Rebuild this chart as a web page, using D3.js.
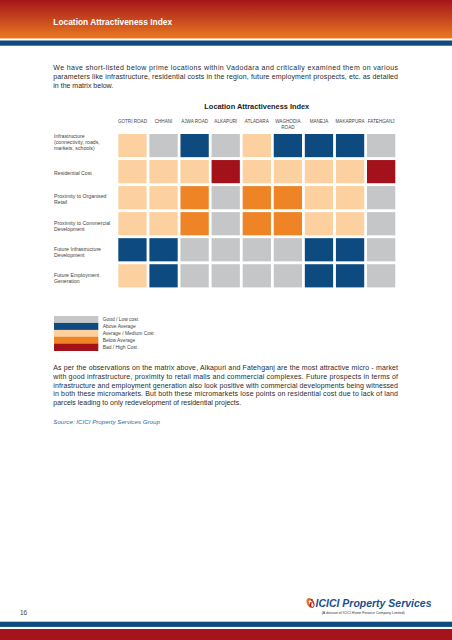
<!DOCTYPE html>
<html>
<head>
<meta charset="utf-8">
<script src="https://cdn.jsdelivr.net/npm/d3@7"></script>
<style>
  html, body { margin: 0; padding: 0; background: #fff; }
  svg { display: block; font-family: "Liberation Sans", Arial, sans-serif; }
</style>
</head>
<body>
<svg id="page" width="452" height="640"></svg>
<script>
// ---------- data ----------
const pageTitle = "Location Attractiveness Index";
const chartTitle = "Location Attractiveness Index";
const introLines = [
  "We have short-listed below prime locations within Vadodara and critically examined them on various",
  "parameters like infrastructure, residential costs in the region, future employment prospects, etc. as detailed",
  "in the matrix below."
];
const locations = ["GOTRI ROAD", "CHHANI", "AJWA ROAD", "ALKAPURI", "ATLADARA", "WAGHODIA ROAD", "MANEJA", "MAKARPURA", "FATEHGANJ"];
const locationLabelLines = [["GOTRI ROAD"], ["CHHANI"], ["AJWA ROAD"], ["ALKAPURI"], ["ATLADARA"], ["WAGHODIA", "ROAD"], ["MANEJA"], ["MAKARPURA"], ["FATEHGANJ"]];
const parameters = ["Infrastructure", "Residential Cost", "Proximity to Organised Retail", "Proximity to Commercial Development", "Future Infrastructure Development", "Future Employment Generation"];
const parameterLabelLines = [
  ["Infrastructure", "(connectivity, roads,", "markets, schools)"],
  ["Residential Cost"],
  ["Proximity to Organised", "Retail"],
  ["Proximity to Commercial", "Development"],
  ["Future Infrastructure", "Development"],
  ["Future Employment", "Generation"]
];
const levels = ["Good / Low cost", "Above Average", "Average / Medium Cost", "Below Average", "Bad / High Cost"];
const levelColors = ["#c5c6c8", "#0d4a80", "#fdd0a0", "#ee8426", "#a3111a"];
// level index per location (0 = Good ... 4 = Bad)
const infrastructure      = [2, 0, 1, 0, 2, 1, 1, 1, 0];
const residentialCost     = [2, 2, 2, 4, 2, 2, 2, 2, 4];
const organisedRetail     = [2, 2, 3, 0, 3, 3, 2, 2, 0];
const commercialDev       = [2, 2, 3, 0, 3, 3, 2, 2, 0];
const futureInfra         = [1, 1, 0, 0, 0, 0, 1, 1, 0];
const futureEmployment    = [2, 1, 0, 0, 0, 0, 1, 1, 0];
const ratings = [infrastructure, residentialCost, organisedRetail, commercialDev, futureInfra, futureEmployment];
const outroLines = [
  "As per the observations on the matrix above, Alkapuri and Fatehganj are the most attractive micro - market",
  "with good infrastructure, proximity to retail malls and commercial complexes. Future prospects in terms of",
  "infrastructure and employment generation also look positive with commercial developments being witnessed",
  "in both these micromarkets. But both these micromarkets lose points on residential cost due to lack of land",
  "parcels leading to only redevelopment of residential projects."
];
const sourceText = "Source: ICICI Property Services Group";
const pageNumber = "16";
const brandName = "ICICI Property Services";
const brandSub = "(A division of ICICI Home Finance Company Limited)";

// ---------- drawing ----------
const svg = d3.select("#page");
const defs = svg.append("defs");
const grad = defs.append("linearGradient").attr("id", "hdr").attr("x1", 0).attr("y1", 0).attr("x2", 0).attr("y2", 1);
grad.append("stop").attr("offset", "0%").attr("stop-color", "#a5141a");
grad.append("stop").attr("offset", "100%").attr("stop-color", "#e97a22");
const logoGrad = defs.append("linearGradient").attr("id", "logo").attr("x1", 0).attr("y1", 0).attr("x2", 1).attr("y2", 1);
logoGrad.append("stop").attr("offset", "0%").attr("stop-color", "#f39a2a");
logoGrad.append("stop").attr("offset", "100%").attr("stop-color", "#b5161c");

// header
svg.append("rect").attr("x", 0).attr("y", 0).attr("width", 452).attr("height", 38.5).attr("fill", "url(#hdr)");
svg.append("rect").attr("x", 0).attr("y", 40.5).attr("width", 452).attr("height", 5.2).attr("fill", "#0e4a7c");
svg.append("text").attr("x", 53.3).attr("y", 25.2).attr("fill", "#fff").attr("font-size", 8.4).attr("font-weight", "bold").text(pageTitle);

// intro paragraph (justified)
const bodyLeft = 53.3, bodyRight = 398;
function paragraph(lines, y0, lh, fs) {
  svg.append("g").selectAll("text").data(lines).join("text")
    .attr("x", bodyLeft)
    .attr("y", (d, i) => y0 + i * lh)
    .attr("font-size", fs)
    .attr("fill", "#2b2b2b")
    .each(function (d, i) {
      if (i < lines.length - 1) {
        d3.select(this).attr("textLength", bodyRight - bodyLeft).attr("lengthAdjust", "spacing");
      }
    })
    .text(d => d);
}
paragraph(introLines, 70.3, 9, 7);

// matrix
const x = d3.scaleBand().domain(locations).range([118.3, 395.3]).paddingInner(0.09);
const y = d3.scaleBand().domain(parameters).range([134, 287.4]).paddingInner(0.11);
const color = d3.scaleOrdinal().domain(d3.range(levels.length)).range(levelColors);

svg.append("text").attr("x", (x.range()[0] + x.range()[1]) / 2).attr("y", 109.3)
  .attr("text-anchor", "middle").attr("font-size", 7.4).attr("font-weight", "bold").attr("fill", "#222")
  .text(chartTitle);

// column labels
const colG = svg.append("g");
locations.forEach((loc, i) => {
  const t = colG.append("text").attr("text-anchor", "middle").attr("font-size", 4.6).attr("fill", "#444")
    .attr("x", x(loc) + x.bandwidth() / 2).attr("y", 123.4);
  locationLabelLines[i].forEach((ln, j) => {
    t.append("tspan").attr("x", x(loc) + x.bandwidth() / 2).attr("dy", j === 0 ? 0 : 5.6).text(ln);
  });
});

// row labels
const rowG = svg.append("g");
parameters.forEach((p, i) => {
  const lines = parameterLabelLines[i];
  const lh = 6;
  let firstY;
  if (lines.length > 2) firstY = y(p) + 3.6;
  else firstY = y(p) + y.bandwidth() / 2 + 2 - (lines.length - 1) * lh / 2 + 1.8;
  const t = rowG.append("text").attr("font-size", 5.2).attr("fill", "#444").attr("x", 54).attr("y", firstY);
  lines.forEach((ln, j) => t.append("tspan").attr("x", 54).attr("dy", j === 0 ? 0 : lh).text(ln));
});

// cells
const cells = [];
ratings.forEach((row, r) => row.forEach((lvl, c) => cells.push({ param: parameters[r], loc: locations[c], lvl })));
svg.append("g").selectAll("rect").data(cells).join("rect")
  .attr("x", d => x(d.loc)).attr("y", d => y(d.param))
  .attr("width", x.bandwidth()).attr("height", y.bandwidth())
  .attr("fill", d => color(d.lvl));

// legend
const ly = d3.scaleBand().domain(levels).range([316, 350.7]);
const leg = svg.append("g");
leg.selectAll("rect").data(levels).join("rect")
  .attr("x", 54).attr("y", d => ly(d)).attr("width", 44.3).attr("height", ly.bandwidth() + 0.3)
  .attr("fill", (d, i) => levelColors[i]);
leg.selectAll("text").data(levels).join("text")
  .attr("x", 102.7).attr("y", d => ly(d) + ly.bandwidth() / 2 + 1.7)
  .attr("font-size", 4.9).attr("fill", "#444").text(d => d);

// outro paragraph
paragraph(outroLines, 370.3, 8.65, 7);

svg.append("text").attr("x", 53.3).attr("y", 423.7).attr("font-size", 6.2).attr("font-style", "italic")
  .attr("fill", "#2d6aa6").text(sourceText);

// footer
svg.append("text").attr("x", 20).attr("y", 615).attr("font-size", 6.5).attr("fill", "#444").text(pageNumber);
// logo icon
const icon = svg.append("g").attr("transform", "translate(310.5,603) rotate(-30)");
icon.append("ellipse").attr("rx", 3.6).attr("ry", 5.4).attr("fill", "url(#logo)");
icon.append("ellipse").attr("cx", 0.3).attr("cy", 0.8).attr("rx", 1.6).attr("ry", 3.6).attr("fill", "#fff");
svg.append("rect").attr("x", 310).attr("y", 602).attr("width", 1.5).attr("height", 5).attr("fill", "#b5161c").attr("transform", "rotate(10,310.7,604)");
svg.append("circle").attr("cx", 311.8).attr("cy", 599.8).attr("r", 0.9).attr("fill", "#b5161c");
svg.append("text").attr("x", 315.5).attr("y", 607).attr("font-size", 10).attr("font-weight", "bold").attr("font-style", "italic")
  .attr("fill", "#1b4f8e").attr("textLength", 116).attr("lengthAdjust", "spacingAndGlyphs").text(brandName);
svg.append("text").attr("x", 321.7).attr("y", 614).attr("font-size", 3.7).attr("fill", "#333")
  .attr("textLength", 83).attr("lengthAdjust", "spacingAndGlyphs").text(brandSub);

svg.append("rect").attr("x", 0).attr("y", 621.7).attr("width", 452).attr("height", 5.2).attr("fill", "#0d4a7e");
svg.append("rect").attr("x", 0).attr("y", 629).attr("width", 452).attr("height", 11).attr("fill", "#a5141a");
</script>
</body>
</html>
